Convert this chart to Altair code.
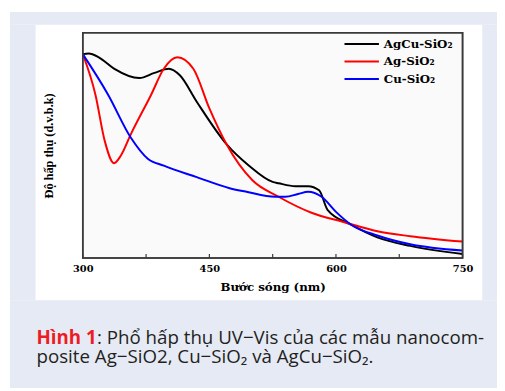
import altair as alt
import pandas as pd

# ---- data ----
series_names = ["AgCu-SiO\u2082", "Ag-SiO\u2082", "Cu-SiO\u2082"]
series_colors = ["#000000", "#ff0000", "#0000ff"]

agcu_wl = [300, 307, 319, 337, 367, 385, 402, 415, 435, 470, 497, 525, 532, 552, 567, 580, 590, 618, 649, 688, 750]
agcu_ab = [0.905, 0.908, 0.891, 0.841, 0.799, 0.822, 0.840, 0.811, 0.694, 0.507, 0.410, 0.338, 0.332, 0.319, 0.319, 0.301, 0.214, 0.148, 0.092, 0.054, 0.018]

ag_wl = [300, 315, 326, 337, 345, 357, 381, 396, 412, 431, 450, 470, 501, 532, 571, 610, 649, 688, 750]
ag_ab = [0.905, 0.725, 0.520, 0.421, 0.454, 0.550, 0.725, 0.840, 0.891, 0.840, 0.664, 0.507, 0.345, 0.272, 0.201, 0.159, 0.119, 0.097, 0.073]

cu_wl = [300, 330, 357, 377, 396, 435, 474, 494, 528, 540, 555, 567, 583, 600, 618, 649, 688, 750]
cu_ab = [0.905, 0.725, 0.534, 0.441, 0.410, 0.359, 0.310, 0.294, 0.272, 0.272, 0.284, 0.294, 0.272, 0.205, 0.148, 0.100, 0.061, 0.033]

x_ticks = [300, 450, 600, 750]
x_minor = [375, 525, 675]

x_title = "Bước sóng (nm)"
y_title = "Độ hấp thụ (d.v.b.k)"
cap_bold = "Hình 1"
cap_line1 = ": Phổ hấp thụ UV\u2212Vis của các mẫu nanocom-"
cap_line2 = "posite Ag\u2212SiO2, Cu\u2212SiO\u2082 và AgCu\u2212SiO\u2082."

# ---- build tables ----
rows = []
for name, wl, ab in [(series_names[0], agcu_wl, agcu_ab),
                     (series_names[1], ag_wl, ag_ab),
                     (series_names[2], cu_wl, cu_ab)]:
    for w, a in zip(wl, ab):
        rows.append({"series": name, "wl": w, "ab": a})
df = pd.DataFrame(rows)
ticks_df = pd.DataFrame({"wl": x_ticks + x_minor})
one = pd.DataFrame({"a": [0]})

W, H = 386, 229
SERIF = "Liberation Serif"
WSERIF = "DejaVu Serif"
SANS = "Open Sans"
FRAME = "#3a3a3a"
LAV = "#e6eaf5"

x_axis = alt.Axis(values=x_ticks, ticks=False, domain=False, grid=False, zindex=2,
                  labelFlush=False,
                  labelFont=WSERIF, labelFontWeight="bold", labelFontSize=10,
                  labelColor="#000", labelPadding=6,
                  titleFont=WSERIF, titleFontWeight="bold", titleFontSize=12,
                  titleColor="#000", titlePadding=8)

xscale = alt.Scale(domain=[300, 750], nice=False, zero=False)
yscale = alt.Scale(domain=[0, 1], nice=False)

# lavender panel around the white figure box (drawn as four strips)
def strip(x0, x1, y0, y1):
    return alt.Chart(one).mark_rect(color=LAV).encode(
        x=alt.value(x0), x2=alt.value(x1), y=alt.value(y0), y2=alt.value(y1))

strips = [
    strip(-74, 421, -21, -8),     # top
    strip(-74, -48, -8, 272),     # left
    strip(406, 421, -8, 272),     # right
    strip(-74, 421, 272, 361),    # bottom (caption area)
]

lines = alt.Chart(df).mark_line(interpolate="monotone", strokeWidth=2, clip=True).encode(
    x=alt.X("wl:Q", scale=xscale, title=x_title, axis=x_axis),
    y=alt.Y("ab:Q", scale=yscale, title=y_title,
            axis=alt.Axis(labels=False, ticks=False, domain=False, grid=False, zindex=2,
                          titleFont=SERIF, titleFontWeight="bold", titleFontSize=12.5,
                          titleColor="#000", titlePadding=28)),
    color=alt.Color("series:N", scale=alt.Scale(domain=series_names, range=series_colors),
                    legend=None),
    order=alt.Order("series:N"),
)

tick_marks = alt.Chart(ticks_df).mark_rule(color=FRAME, strokeWidth=1.2).encode(
    x=alt.X("wl:Q", scale=xscale, title=x_title, axis=x_axis),
    y=alt.value(H), y2=alt.value(H - 4))

frame_box = alt.Chart(one).mark_rect(filled=False, stroke=FRAME, strokeWidth=1.6).encode(
    x=alt.value(0), x2=alt.value(W), y=alt.value(0), y2=alt.value(H))

layers = strips + [lines, tick_marks, frame_box]

# legend drawn by hand
for i, (nm, col) in enumerate(zip(series_names, series_colors)):
    yy = 11.5 + i * 17.8
    layers.append(alt.Chart(one).mark_rule(color=col, strokeWidth=2).encode(
        x=alt.value(266), x2=alt.value(301), y=alt.value(yy)))
    layers.append(alt.Chart(one).mark_text(text=nm, align="left", baseline="middle",
                                           font=WSERIF, fontWeight="bold", fontSize=12,
                                           color="#000").encode(
        x=alt.value(306), y=alt.value(yy)))

# caption
layers.append(alt.Chart(one).mark_text(text=cap_bold, align="left", baseline="alphabetic",
                                       font=SANS, fontWeight="bold", fontSize=19,
                                       color="#ed1c24").encode(
    x=alt.value(-47), y=alt.value(316)))
layers.append(alt.Chart(one).mark_text(text=cap_line1, align="left", baseline="alphabetic",
                                       font=SANS, fontSize=19, color="#231f20").encode(
    x=alt.value(14.5), y=alt.value(316)))
layers.append(alt.Chart(one).mark_text(text=cap_line2, align="left", baseline="alphabetic",
                                       font=SANS, fontSize=19, color="#231f20").encode(
    x=alt.value(-47), y=alt.value(336)))

chart = alt.layer(*layers).properties(
    width=W, height=H,
    autosize=alt.AutoSizeParams(type="none"),
    padding={"left": 76, "top": 22, "right": 35, "bottom": 132},
    background="white",
).configure_view(stroke=FRAME, strokeWidth=1.6, fill="#fafafa")

chart.save("out.html", embed_options={"renderer": "svg", "actions": False})
